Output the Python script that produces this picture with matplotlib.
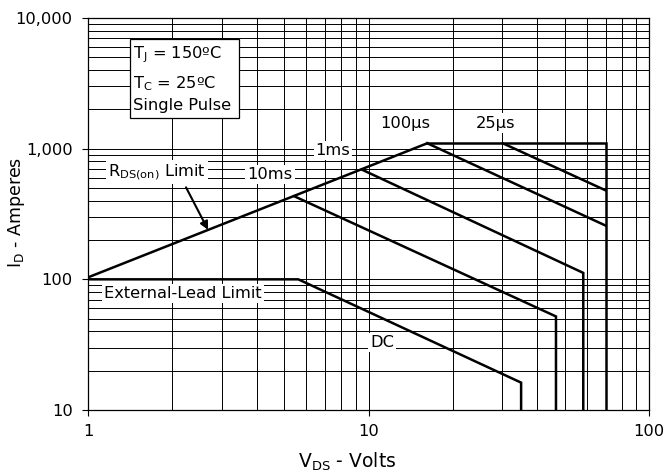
import matplotlib
matplotlib.use("Agg")
import matplotlib.pyplot as plt
import numpy as np
from matplotlib.patches import Rectangle
from matplotlib.ticker import FixedLocator, NullFormatter

plt.rcParams['font.family'] = ['DejaVu Sans']
plt.rcParams['font.size'] = 11.7

# Safe operating area curves (V_DS in volts, I_D in amperes)
rds_v = [1, 16.2]
rds_i = [103.5, 1100]

top_v = [16.2, 70, 70]
top_i = [1100, 1100, 10]

us25_v = [30.1, 70]
us25_i = [1100, 480]

us100_v = [16.2, 70]
us100_i = [1100, 258]

ms1_v = [9.45, 58.3, 58.3]
ms1_i = [693, 112, 10]

ms10_v = [5.44, 46.6, 46.6]
ms10_i = [432, 52, 10]

dc_v = [1, 5.62, 35.0, 35.0]
dc_i = [100, 100, 16.2, 10]

x_ticks = [1, 10, 100]
x_labels = ['1', '10', '100']
y_ticks = [10, 100, 1000, 10000]
y_labels = ['10', '100', '1,000', '10,000']

fig = plt.figure(figsize=(6.68, 4.74), dpi=100)
ax = fig.add_axes([88/668, 1-410/474, 561/668, 392/474])
ax.set_xscale('log')
ax.set_yscale('log')
ax.set_xlim(1, 100)
ax.set_ylim(10, 10000)

ax.xaxis.set_major_locator(FixedLocator(x_ticks))
ax.set_xticklabels(x_labels)
ax.yaxis.set_major_locator(FixedLocator(y_ticks))
ax.set_yticklabels(y_labels)
ax.xaxis.set_minor_formatter(NullFormatter())
ax.yaxis.set_minor_formatter(NullFormatter())
ax.tick_params(which='major', length=4, width=0.8, color='black')
ax.tick_params(axis='x', which='major', pad=6)
ax.tick_params(axis='y', which='major', pad=7)
ax.tick_params(which='minor', length=0)

ax.grid(which='both', color='black', linewidth=0.7)
ax.set_axisbelow(True)
for s in ax.spines.values():
    s.set_linewidth(0.9)

lw = 1.8
for v, i in [(rds_v, rds_i), (top_v, top_i), (us25_v, us25_i), (us100_v, us100_i),
             (ms1_v, ms1_i), (ms10_v, ms10_i), (dc_v, dc_i)]:
    ax.plot(v, i, color='black', linewidth=lw, solid_joinstyle='miter', zorder=3)

bb = dict(facecolor='white', edgecolor='none', pad=1.5)

# condition box
ax.add_patch(Rectangle((0.0749, 0.746), 0.194, 0.2, transform=ax.transAxes,
                       facecolor='white', edgecolor='black', linewidth=0.9, zorder=4))
ax.text(0.081, 0.906, r'$\mathregular{T_J}$ = 150ºC', transform=ax.transAxes, va='center', zorder=5)
ax.text(0.081, 0.833, r'$\mathregular{T_C}$ = 25ºC', transform=ax.transAxes, va='center', zorder=5)
ax.text(0.081, 0.777, 'Single Pulse', transform=ax.transAxes, va='center', zorder=5)

ax.text(0.123, 0.607, r'$\mathregular{R_{DS(on)}}$ Limit', transform=ax.transAxes,
        ha='center', va='center', bbox=bb, zorder=5)
ax.annotate('', xy=(2.68, 239), xycoords='data', xytext=(0.1747, 0.568),
            textcoords='axes fraction',
            arrowprops=dict(arrowstyle='-|>', color='black', lw=1.5, mutation_scale=12,
                            shrinkA=0, shrinkB=0), zorder=5)

for txt, x, y in [('10ms', 0.3244, 0.6015), ('1ms', 0.4367, 0.6628),
                  ('100µs', 0.565, 0.732), ('25µs', 0.727, 0.732),
                  ('External-Lead Limit', 0.1693, 0.2976), ('DC', 0.524, 0.172)]:
    ax.text(x, y, txt, transform=ax.transAxes, ha='center', va='center', bbox=bb, zorder=5)

fig.text(347/668, 1-462/474, r'$\mathregular{V_{DS}}$ - Volts', fontsize=13.5,
         ha='center', va='center')
fig.text(17/668, 1-212/474, r'$\mathregular{I_D}$ - Amperes', fontsize=12.5,
         ha='center', va='center', rotation=90)

fig.savefig('out.png', dpi=100)
